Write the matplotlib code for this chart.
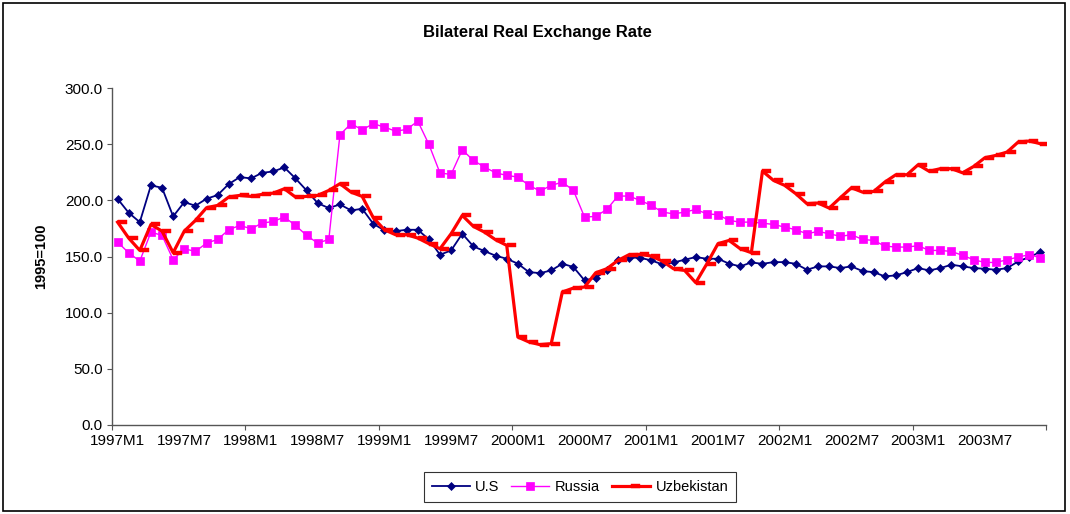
import matplotlib
matplotlib.use("Agg")
import matplotlib.pyplot as plt
from matplotlib.path import Path
from matplotlib.patches import Rectangle

# ---- data (1997M1 .. 2003M12, monthly, 1995=100) ----
us = [201.4, 188.9, 180.6, 213.3, 211.2, 185.7, 198.4, 195.2, 201.4, 204.7, 214.5, 220.7,
      219.5, 224.5, 225.7, 229.3, 219.5, 208.8, 197.5, 193.1, 196.4, 191.0, 192.5, 179.1,
      173.2, 172.6, 173.8, 173.8, 165.2, 151.6, 155.4, 170.3, 159.0, 154.8, 150.7, 148.0,
      143.6, 136.1, 135.2, 137.6, 143.6, 140.6, 128.7, 131.1, 137.6, 147.1, 148.9, 148.9,
      146.5, 143.0, 144.7, 147.1, 149.5, 148.0, 148.0, 143.6, 141.2, 144.7, 143.5, 145.0,
      145.0, 143.5, 138.2, 141.2, 141.2, 139.7, 141.2, 137.0, 136.1, 132.3, 133.2, 136.1,
      139.7, 137.6, 139.7, 142.7, 141.2, 139.7, 139.1, 138.2, 139.7, 145.6, 149.5, 154.0]

russia = [162.8, 153.3, 145.9, 171.7, 168.8, 147.1, 156.9, 154.5, 161.9, 165.2, 173.8, 177.7,
          174.7, 179.7, 181.2, 185.1, 177.7, 168.8, 161.9, 165.2, 258.4, 268.2, 262.8, 268.2,
          265.2, 261.6, 263.1, 270.5, 249.8, 224.3, 223.1, 245.0, 235.5, 229.6, 224.5, 222.2,
          220.7, 213.3, 208.3, 213.3, 216.2, 208.8, 185.1, 185.7, 191.9, 203.8, 203.8, 199.9,
          195.5, 189.5, 188.0, 189.5, 191.9, 188.0, 187.2, 182.1, 180.6, 180.6, 179.7, 178.5,
          176.2, 173.8, 170.3, 172.3, 170.3, 167.9, 169.4, 165.2, 164.3, 159.3, 158.4, 158.4,
          159.6, 155.4, 155.4, 154.5, 151.0, 147.1, 144.7, 144.7, 147.1, 149.5, 151.6, 148.9]

uzbekistan = [180.6, 166.4, 155.4, 178.5, 172.6, 153.4, 172.6, 182.1, 193.4, 195.5, 202.9, 204.4,
              203.5, 205.3, 206.4, 210.3, 202.9, 203.5, 204.4, 208.8, 214.8, 207.3, 203.5, 184.5,
              173.8, 169.4, 169.4, 166.4, 161.4, 156.9, 170.3, 186.6, 176.8, 171.7, 164.9, 159.9,
              78.3, 73.9, 71.5, 72.4, 118.4, 121.9, 122.8, 135.5, 139.1, 146.5, 151.6, 151.9,
              150.4, 145.9, 139.1, 137.6, 126.7, 143.5, 161.4, 164.3, 156.9, 153.4, 226.0, 217.7,
              213.3, 205.9, 197.0, 197.6, 193.1, 202.3, 211.2, 207.3, 207.9, 216.2, 222.8, 222.8,
              231.7, 225.8, 228.2, 228.2, 224.5, 230.2, 237.9, 240.0, 243.0, 251.9, 252.8, 250.4]

xlabels = ["1997M1", "1997M7", "1998M1", "1998M7", "1999M1", "1999M7", "2000M1",
           "2000M7", "2001M1", "2001M7", "2002M1", "2002M7", "2003M1", "2003M7"]
yticks = [0, 50, 100, 150, 200, 250, 300]

title = "Bilateral Real Exchange Rate"
ylabel = "1995=100"
series_names = ["U.S", "Russia", "Uzbekistan"]

# ---- figure ----
plt.rcParams['font.family'] = ['Liberation Sans', 'DejaVu Sans']
W, H = 1070, 514
fig = plt.figure(figsize=(W / 100, H / 100), dpi=100)
fig.patch.set_facecolor('white')

ax = fig.add_axes([112 / W, (H - 425) / H, 934 / W, 337 / H])
x = list(range(len(us)))

ax.plot(x, us, color='#000080', lw=1.3, marker='D', ms=4.5,
        mfc='#000080', mec='#000080', mew=0.5, label=series_names[0], zorder=2)
ax.plot(x, russia, color='#FF00FF', lw=1.0, marker='s', ms=6.4,
        mfc='#FF00FF', mec='#FF00FF', mew=0.5, label=series_names[1], zorder=3)

dash = Path([(0, -0.18), (1, -0.18), (1, 0.18), (0, 0.18), (0, -0.18)],
            [Path.MOVETO, Path.LINETO, Path.LINETO, Path.LINETO, Path.CLOSEPOLY])
ax.plot(x, uzbekistan, color='#FF0000', lw=2.3, marker=dash, ms=13,
        mfc='#FF0000', mec='#FF0000', mew=0.3, label=series_names[2], zorder=4)

ax.set_xlim(-0.5, len(us) - 0.5)
ax.set_ylim(0, 300)

# y axis
ax.set_yticks(yticks)
ax.set_yticklabels([f"{v:.1f}" for v in yticks], fontsize=11)
ax.tick_params(axis='y', direction='out', length=3.5, width=0.8, color='#555555', pad=3)

# x axis: tick marks every 12 months between categories, labels every 6 months
ax.set_xticks([k - 0.5 for k in range(0, len(us) + 1, 12)])
ax.set_xticklabels([])
ax.set_xticks(list(range(0, len(us), 6)), minor=True)
ax.set_xticklabels(xlabels, minor=True, fontsize=11)
ax.tick_params(axis='x', which='major', direction='out', length=3.5, width=0.8, color='#555555')
ax.tick_params(axis='x', which='minor', length=0, pad=6.5)

for s in ['top', 'right']:
    ax.spines[s].set_visible(False)
for s in ['left', 'bottom']:
    ax.spines[s].set_color('#555555')
    ax.spines[s].set_linewidth(1.0)

ax.set_ylabel(ylabel, fontsize=10.5, fontweight='bold', labelpad=12)
fig.text(537 / W, 1 - 33 / H, title, ha='center', va='center',
         fontsize=12, fontweight='bold')

leg = fig.legend(loc='center', bbox_to_anchor=(580 / W, 1 - 487 / H), ncol=3,
                 fontsize=10.5, frameon=True, fancybox=False, handlelength=2.6,
                 handletextpad=0.4, columnspacing=0.8, borderpad=0.55,
                 numpoints=1)
leg.get_frame().set_edgecolor('black')
leg.get_frame().set_linewidth(0.8)

# outer chart border
fig.patches.append(Rectangle((2.5 / W, 3 / H), (1065 - 2.5) / W, (511 - 3) / H,
                             transform=fig.transFigure, fill=False,
                             edgecolor='black', linewidth=1.2))

fig.savefig('out.png', dpi=100, facecolor='white')
